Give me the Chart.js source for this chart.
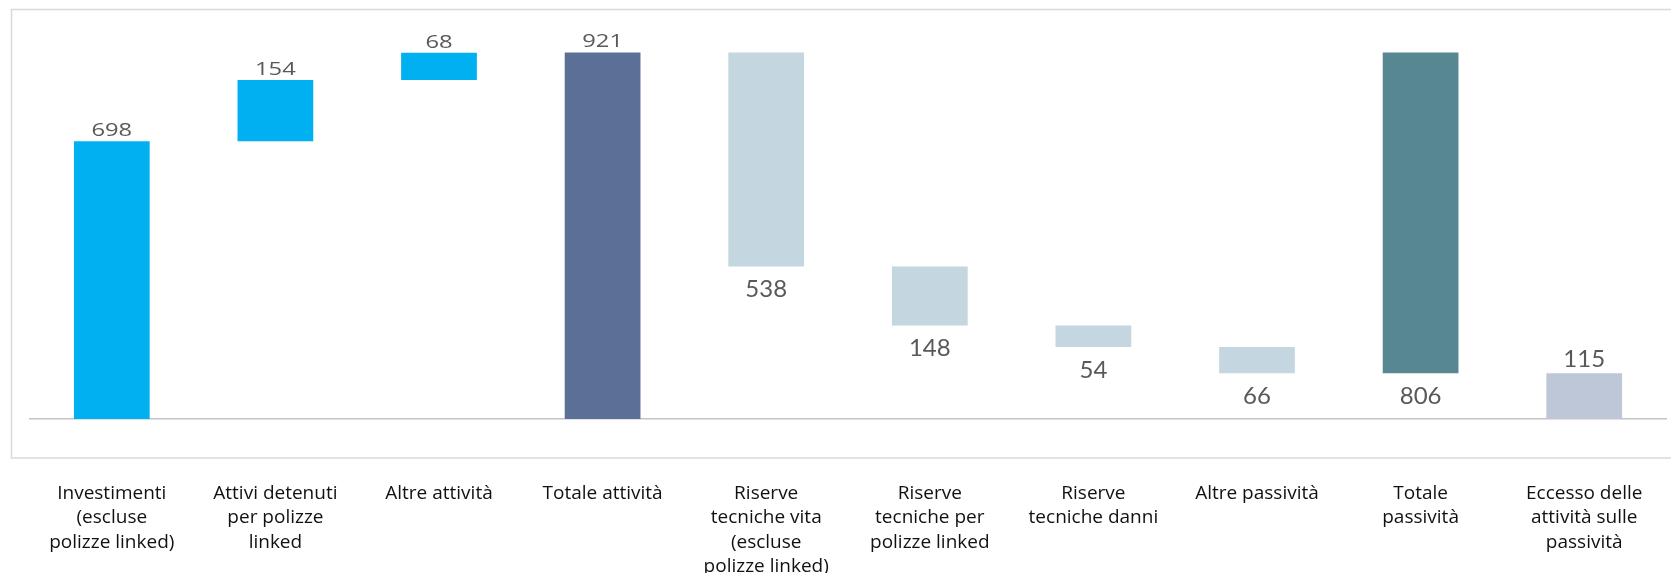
<!DOCTYPE html>
<html lang="it">
  <head>
    <title>Attività e passività</title>
    <meta charset="UTF-8" />
    <script src="https://cdn.jsdelivr.net/npm/chart.js"></script>
    <style>
      html, body { margin: 0; padding: 0; background: #fff; overflow: hidden; }
      #wrap { width: 1671px; height: 573px; position: relative; }
    </style>
  </head>
  <body>
    <div id="wrap"><canvas id="chart"></canvas></div>

    <script>
      // categorie (etichette su più righe come nell'originale)
      const categories = [
        ['Investimenti', '(escluse', 'polizze linked)'],
        ['Attivi detenuti', 'per polizze', 'linked'],
        ['Altre attività'],
        ['Totale attività'],
        ['Riserve', 'tecniche vita', '(escluse', 'polizze linked)'],
        ['Riserve', 'tecniche per', 'polizze linked'],
        ['Riserve', 'tecniche danni'],
        ['Altre passività'],
        ['Totale', 'passività'],
        ['Eccesso delle', 'attività sulle', 'passività'],
      ];

      // valori mostrati
      const values = [698, 154, 68, 921, 538, 148, 54, 66, 806, 115];

      // estremi delle barre (cascata)
      const barStart = [0, 698, 852, 0, 383, 235, 181, 115, 115, 0];
      const barEnd = [698, 852, 920, 921, 921, 383, 235, 181, 921, 115];

      const colors = [
        '#00B0F0', '#00B0F0', '#00B0F0', '#5B7096',
        '#C4D6E0', '#C4D6E0', '#C4D6E0', '#C4D6E0',
        '#578791', '#BDC7D8',
      ];
      // dove va l'etichetta e con che carattere
      const labelPos = ['top', 'top', 'top', 'top', 'bottom', 'bottom', 'bottom', 'bottom', 'bottom', 'top'];
      const labelBig = [false, false, false, false, true, true, true, true, true, true];

      // cornice grigia: sopra, a sinistra e sotto (il lato destro esce dall'immagine)
      const frame = {
        id: 'frame',
        beforeDraw(chart) {
          const c = chart.ctx;
          c.save();
          c.strokeStyle = '#d9d9d9';
          c.lineWidth = 1.5;
          c.beginPath();
          c.moveTo(1671, 9.5);
          c.lineTo(11.5, 9.5);
          c.lineTo(11.5, 458);
          c.lineTo(1671, 458);
          c.stroke();
          c.restore();
        },
      };

      const valueLabels = {
        id: 'valueLabels',
        afterDatasetsDraw(chart) {
          const c = chart.ctx;
          const meta = chart.getDatasetMeta(0);
          meta.data.forEach((bar, i) => {
            const top = Math.min(bar.y, bar.base);
            const bottom = Math.max(bar.y, bar.base);
            c.save();
            c.fillStyle = '#595959';
            c.textAlign = 'center';
            c.textBaseline = 'middle';
            if (labelBig[i]) {
              c.font = '24px Lato';
              const y = labelPos[i] === 'top' ? top - 14 : bottom + 23;
              c.fillText(values[i], bar.x, y);
            } else {
              c.font = '19px "Open Sans"';
              c.translate(bar.x, top - 10.5);
              c.scale(1.25, 1);
              c.fillText(values[i], 0, 0);
            }
            c.restore();
          });
        },
      };

      const ctx = document.getElementById('chart').getContext('2d');
      const chart = new Chart(ctx, {
        type: 'bar',
        data: {
          labels: categories,
          datasets: [
            {
              data: barStart.map((s, i) => [s, barEnd[i]]),
              backgroundColor: colors,
              borderWidth: 0,
              categoryPercentage: 1,
              barPercentage: 0.463,
            },
          ],
        },
        options: {
          responsive: true,
          maintainAspectRatio: false,
          animation: false,
          layout: { padding: { left: 30, right: 5, top: 21, bottom: 0 } },
          plugins: {
            legend: { display: false },
            tooltip: { enabled: false },
          },
          scales: {
            x: {
              grid: { display: false, drawTicks: false },
              border: { display: true, color: '#c4c4c4', width: 1.5 },
              ticks: {
                color: '#111',
                font: { family: 'Open Sans', size: 19, lineHeight: 1.29 },
                padding: 62,
                maxRotation: 0,
                autoSkip: false,
              },
              afterFit(scale) {
                scale.height = 154;
                scale.paddingLeft = 0;
                scale.paddingRight = 0;
              },
            },
            y: {
              display: false,
              min: 0,
              max: 1000,
            },
          },
        },
        plugins: [frame, valueLabels],
      });
    </script>
  </body>
</html>
